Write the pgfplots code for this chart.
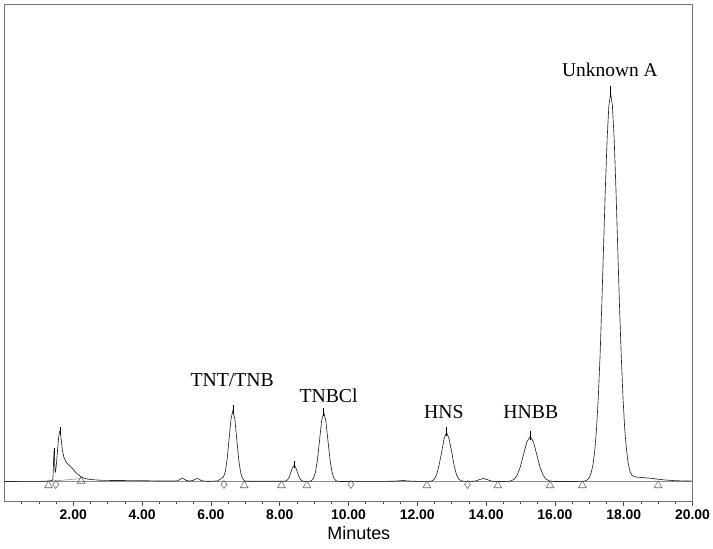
\documentclass[border=0pt]{standalone}
\usepackage{fontspec}
\setmainfont{Liberation Serif}
\setsansfont{Liberation Sans}
\usepackage{pgfplots}
\pgfplotsset{compat=1.18}
\begin{document}
\begin{tikzpicture}
\begin{axis}[
 width=688bp, height=497bp, scale only axis,
 xmin=0, xmax=20, ymin=-20, ymax=477,
 axis line style={draw=black!55, line width=0.7pt},
 xtick={2,4,...,20},
 minor xtick={0.5,1,...,19.5},
 xtick pos=left, xtick align=outside,
 major tick length=4.5bp, minor tick length=2.5bp,
 tick style={draw=black!70, line width=0.6pt},
 ytick=\empty,
 xticklabel style={font=\sffamily\bfseries\fontsize{14}{15}\selectfont, /pgf/number format/.cd, fixed, fixed zerofill, precision=2, assume math mode=true},
 clip=false,
]
% horizontal baseline
\addplot[black!45, line width=0.6pt] coordinates {(0,0) (20,0)};
% integration baseline segment
\addplot[black!45, line width=0.6pt] coordinates {(1.28,0) (2.23,3)};
% chromatogram trace
\addplot[black!85, line width=0.65pt] coordinates {
(0,0) (0.5,0.1) (1.0,0.1) (1.2,0.3) (1.3,0.6) (1.36,0.9) (1.40,1.35) (1.41,4.6) (1.42,12.8) (1.43,24.2) (1.44,30.6) (1.45,26) (1.46,16.5) (1.47,10.6) (1.48,9.7) (1.49,11.6) (1.50,14.5) (1.52,21.9) (1.54,30.3) (1.56,38.7) (1.58,45.6) (1.60,49.9) (1.61,50) (1.62,49.5) (1.64,45) (1.66,38) (1.68,32) (1.72,25) (1.78,20) (1.85,17) (1.92,15) (2.0,12) (2.07,9) (2.14,7) (2.21,5) (2.3,3.5) (2.4,2.6) (2.5,2) (2.8,1.2) (3.2,1) (4.0,0.8) (4.5,0.5) (5.0,0.55) (5.07,1.4) (5.12,2.5) (5.17,3.1) (5.22,2.5) (5.28,1.1) (5.38,0.4) (5.5,1.3) (5.55,2.4) (5.6,3.0) (5.65,2.4) (5.72,0.9) (5.8,0.4) (5.9,0.3) (6.0,0.3) (6.1,0.4) (6.2,0.7) (6.255,2.0) (6.31,3.3) (6.365,4.5) (6.42,9.9) (6.475,23.1) (6.53,43.1) (6.585,62.7) (6.64,71) (6.695,62.7) (6.75,43.1) (6.805,23.1) (6.86,9.6) (6.915,3.1) (6.97,0.9) (7.025,0.3) (7.08,0.2) (7.5,0.2) (8.0,0.2) (8.06,0.2) (8.105,0.2) (8.15,0.3) (8.195,0.8) (8.24,2.2) (8.285,5.2) (8.33,9.7) (8.375,14.1) (8.42,16) (8.465,14.1) (8.51,9.7) (8.555,5.2) (8.6,2.2) (8.645,0.7) (8.69,0.2) (8.735,0.05) (8.78,0) (8.80,0.02) (8.86,0.15) (8.92,0.77) (8.98,3.0) (9.04,9.3) (9.10,22.4) (9.16,41.8) (9.22,60.9) (9.28,69) (9.34,60.9) (9.40,41.8) (9.46,22.4) (9.52,9.3) (9.58,3.0) (9.64,0.77) (9.70,0.15) (9.76,0.05) (10.5,0.1) (11.3,0.2) (11.5,0.8) (11.6,1.0) (11.7,0.6) (11.9,0.2) (12.2,0.1) (12.27,0.1) (12.34,0.15) (12.42,0.54) (12.49,2.15) (12.56,6.6) (12.63,15.9) (12.71,29.7) (12.78,43.2) (12.85,49) (12.92,43.2) (13.0,29.7) (13.07,15.9) (13.14,6.6) (13.21,2.15) (13.29,0.6) (13.36,0.2) (13.43,0.1) (13.56,0.1) (13.68,0.4) (13.80,1.8) (13.92,3) (14.04,1.8) (14.16,0.4) (14.28,0.05) (14.52,0.05) (14.615,0.1) (14.71,0.5) (14.805,1.98) (14.90,6.1) (14.995,14.6) (15.09,27.3) (15.185,39.7) (15.28,45) (15.375,39.7) (15.47,27.3) (15.565,14.6) (15.66,6.1) (15.755,2.0) (15.85,0.5) (15.945,0.1) (16.04,0.05) (16.5,0.05) (16.80,0.13) (16.851,0.34) (16.903,0.85) (16.954,1.98) (17.005,4.31) (17.056,8.85) (17.108,17.0) (17.159,30.9) (17.21,52.5) (17.261,83.9) (17.313,126.0) (17.364,177.6) (17.415,235.3) (17.466,292.9) (17.518,342.4) (17.569,376.0) (17.62,388) (17.671,376.0) (17.723,342.4) (17.774,292.9) (17.825,235.3) (17.876,177.6) (17.928,126.0) (17.979,83.9) (18.03,52.5) (18.081,32) (18.133,17.5) (18.184,10) (18.235,6.5) (18.286,5.2) (18.338,4.6) (18.44,4.2) (18.6,3.8) (18.8,3.2) (19.0,2.3) (19.2,1.5) (19.5,0.8) (19.8,0.5) (20,0.4)
};
% apex markers
\addplot[black, line width=0.6pt] coordinates {(1.44,26) (1.44,33)};
\addplot[black, line width=0.6pt] coordinates {(1.61,46) (1.61,54)};
\addplot[black, line width=0.6pt] coordinates {(6.64,67) (6.64,76)};
\addplot[black, line width=0.6pt] coordinates {(8.42,13) (8.42,20)};
\addplot[black, line width=0.6pt] coordinates {(9.28,65) (9.28,73)};
\addplot[black, line width=0.6pt] coordinates {(12.85,45) (12.85,54)};
\addplot[black, line width=0.6pt] coordinates {(15.28,41) (15.28,50)};
\addplot[black, line width=0.6pt] coordinates {(17.62,384) (17.62,395)};
% integration markers
\addplot[only marks, mark=triangle, mark size=4.5pt, mark options={draw=black!60, fill=white, line width=0.55pt}] coordinates {
(1.28,-4) (2.23,0.5) (6.97,-4) (8.05,-4) (8.79,-4) (12.28,-4) (14.34,-4) (15.86,-4) (16.8,-4) (19.0,-4)};
\addplot[only marks, mark=diamond, mark size=4pt, mark options={draw=black!60, fill=white, line width=0.55pt}] coordinates {
(1.49,-3) (6.38,-3) (10.07,-3) (13.46,-3)};
% peak labels
\node[anchor=base, font=\fontsize{19.8}{21}\selectfont] at (axis cs:6.62,95) {TNT/TNB};
\node[anchor=base, font=\fontsize{19.8}{21}\selectfont] at (axis cs:9.42,79) {TNBCl};
\node[anchor=base, font=\fontsize{19.8}{21}\selectfont] at (axis cs:12.77,63) {HNS};
\node[anchor=base, font=\fontsize{19.8}{21}\selectfont] at (axis cs:15.30,63) {HNBB};
\node[anchor=base, font=\fontsize{19.5}{21}\selectfont] at (axis cs:17.60,405) {Unknown A};
\node[anchor=base, font=\sffamily\fontsize{18}{19}\selectfont] at (axis cs:10.3,-57.6) {Minutes};
\end{axis}
\pgfresetboundingbox
\path (-4.5bp,-47.3bp) rectangle (708.5bp,501.5bp);
\end{tikzpicture}
\end{document}
